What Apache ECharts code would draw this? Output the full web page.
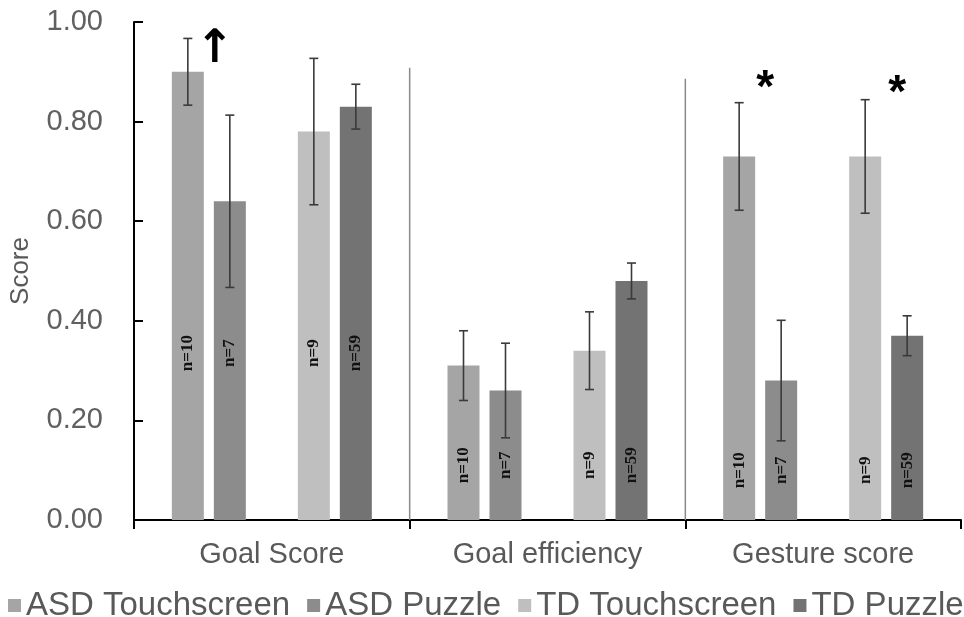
<!DOCTYPE html>
<html>
<head>
<meta charset="utf-8">
<script src="https://cdn.jsdelivr.net/npm/echarts@6/dist/echarts.min.js"></script>
<style>html,body{margin:0;padding:0;background:#fff}#c{width:964px;height:617px}</style>
</head>
<body>
<div id="c"></div>
<script>
// ---- data ----
const categories = ['Goal Score', 'Goal efficiency', 'Gesture score'];
const seriesNames = ['ASD Touchscreen', 'ASD Puzzle', 'TD Touchscreen', 'TD Puzzle'];
const asdTouch = [0.90, 0.31, 0.73];
const asdPuzzle = [0.64, 0.26, 0.28];
const tdTouch = [0.78, 0.34, 0.73];
const tdPuzzle = [0.83, 0.48, 0.37];
const asdTouchErr = [0.067, 0.070, 0.108];
const asdPuzzleErr = [0.173, 0.095, 0.121];
const tdTouchErr = [0.147, 0.078, 0.114];
const tdPuzzleErr = [0.045, 0.036, 0.040];
const asdTouchN = [10, 10, 10];
const asdPuzzleN = [7, 7, 7];
const tdTouchN = [9, 9, 9];
const tdPuzzleN = [59, 59, 59];
const yTickValues = [0, 0.2, 0.4, 0.6, 0.8, 1.0];
const separatorTops = [0.908, 0.886];       // tops of the two divider lines (value units)
const annotations = [                         // marks drawn above bars
  { cat: 0, text: '\u2191', level: 0.944 },
  { cat: 2, text: '*', level: 0.865 },
  { cat: 2, text: '*', level: 0.855 }
];

// ---- styling / layout (not data) ----
const colors = ['#a5a5a5', '#8c8c8c', '#bfbfbf', '#737373'];
const BAR_W = 32, GAP = 10, STEP = BAR_W + GAP;
const slotOf = [0, 1, 3, 4];                  // slot 2 is an empty spacer
const labelCenterValue = [0.335, 0.11, 0.10];
const annotationOffsets = [-57, -58, 74];
const annotationFonts = ['bold 46px "DejaVu Sans"', 'bold 46px "Liberation Sans"', 'bold 46px "Liberation Sans"'];

const means = [asdTouch, asdPuzzle, tdTouch, tdPuzzle];
const errs = [asdTouchErr, asdPuzzleErr, tdTouchErr, tdPuzzleErr];
const ns = [asdTouchN, asdPuzzleN, tdTouchN, tdPuzzleN];

const errData = [], labelData = [];
means.forEach((arr, s) => arr.forEach((m, c) => {
  errData.push([c, slotOf[s], m, errs[s][c]]);
  labelData.push([c, slotOf[s], m, ns[s][c]]);
}));

const barSeries = [];
seriesNames.forEach((name, s) => {
  if (s === 2) {
    barSeries.push({ type: 'bar', name: '__spacer', data: ['-', '-', '-'], barWidth: BAR_W, barGap: (GAP / BAR_W * 100) + '%', silent: true });
  }
  barSeries.push({
    type: 'bar', name: name, data: means[s], barWidth: BAR_W, barGap: (GAP / BAR_W * 100) + '%',
    itemStyle: { color: colors[s] }, silent: true
  });
});

const chart = echarts.init(document.getElementById('c'), null, { renderer: 'canvas' });
chart.setOption({
  animation: false,
  backgroundColor: '#fff',
  grid: { left: 132, right: 3, top: 22, bottom: 97, containLabel: false },
  legend: {
    data: seriesNames,
    left: 8, top: 589, width: 956, padding: 0,
    icon: 'rect', itemWidth: 13, itemHeight: 13, itemGap: 17,
    textStyle: { fontFamily: 'Liberation Sans', fontSize: 33, color: '#595959' }
  },
  xAxis: {
    type: 'category', data: categories,
    axisLine: { lineStyle: { color: '#000', width: 2 } },
    axisTick: { show: true, length: 9, lineStyle: { color: '#000', width: 2 } },
    axisLabel: { fontFamily: 'Liberation Sans', fontSize: 29, color: '#595959', margin: 20 },
    splitLine: { show: false }
  },
  yAxis: {
    type: 'value', min: 0, max: 1, interval: 0.2,
    name: 'Score', nameLocation: 'middle', nameGap: 100,
    nameTextStyle: { fontFamily: 'Liberation Sans', fontSize: 26, color: '#595959' },
    axisLine: { show: true, lineStyle: { color: '#000', width: 2 } },
    axisTick: { show: true, inside: true, length: 9, lineStyle: { color: '#000', width: 2 } },
    axisLabel: { fontFamily: 'Liberation Sans', fontSize: 29, color: '#606060', margin: 31,
      formatter: v => (yTickValues.some(t => Math.abs(t - v) < 1e-9) ? v.toFixed(2) : '') },
    splitLine: { show: false }
  },
  series: barSeries.concat([
    {
      type: 'custom', name: 'separators', silent: true, z: 1,
      data: separatorTops.map((t, i) => [i + 1, t]),
      encode: { x: 0, y: 1 },
      renderItem: (params, api) => {
        const b = api.value(0), t = api.value(1);
        const half = api.size([1, 0])[0] / 2;
        const x = api.coord([b, 0])[0] - half;
        return { type: 'line', shape: { x1: x, y1: api.coord([b, 0])[1], x2: x, y2: api.coord([b, t])[1] },
          style: { stroke: '#8a8a8a', lineWidth: 1.5 } };
      }
    },
    {
      type: 'custom', name: 'errors', silent: true, z: 5,
      data: errData, encode: { x: 0, y: 2 },
      renderItem: (params, api) => {
        const c = api.value(0), slot = api.value(1), m = api.value(2), e = api.value(3);
        const x = api.coord([c, 0])[0] + (slot - 2) * STEP;
        const yT = api.coord([c, m + e])[1], yB = api.coord([c, m - e])[1];
        const st = { stroke: '#3a3a3a', lineWidth: 1.6 };
        return { type: 'group', children: [
          { type: 'line', shape: { x1: x, y1: yT, x2: x, y2: yB }, style: st },
          { type: 'line', shape: { x1: x - 4.5, y1: yT, x2: x + 4.5, y2: yT }, style: st },
          { type: 'line', shape: { x1: x - 4.5, y1: yB, x2: x + 4.5, y2: yB }, style: st }
        ] };
      }
    },
    {
      type: 'custom', name: 'nlabels', silent: true, z: 6,
      data: labelData, encode: { x: 0, y: 2 },
      renderItem: (params, api) => {
        const c = api.value(0), slot = api.value(1), n = api.value(3);
        const x = api.coord([c, 0])[0] + (slot - 2) * STEP;
        const y = api.coord([c, labelCenterValue[c]])[1];
        return { type: 'text', x: x, y: y, rotation: Math.PI / 2,
          style: { text: 'n=' + n, font: 'bold 17px "Liberation Serif"', fill: '#111', align: 'center', verticalAlign: 'middle' } };
      }
    },
    {
      type: 'custom', name: 'marks', silent: true, z: 7,
      data: annotations.map((a, i) => [a.cat, a.level, i]), encode: { x: 0, y: 1 },
      renderItem: (params, api) => {
        const c = api.value(0), lv = api.value(1), i = api.value(2);
        const p = api.coord([c, lv]);
        return { type: 'text', x: p[0] + annotationOffsets[i], y: p[1],
          style: { text: annotations[i].text, font: annotationFonts[i], fill: '#000', align: 'center', verticalAlign: 'middle' } };
      }
    }
  ])
});
</script>
</body>
</html>
